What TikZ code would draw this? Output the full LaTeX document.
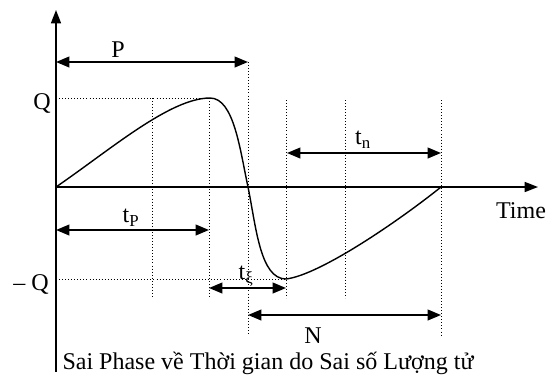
\documentclass[tikz,border=0pt]{standalone}
\usepackage{fontspec}
\setmainfont{Liberation Serif}
\usepackage{tikz}
\usetikzlibrary{arrows.meta, calc}
\tikzset{
  axis/.style={
    -{Triangle[length=4mm,width=3mm]},
    line width=1.3pt
  },
  span/.style={
    {Triangle[length=4mm,width=3.2mm]}-{Triangle[length=4mm,width=3.2mm]},
    line width=1.6pt
  },
  guide/.style={
    dotted,
    line width=0.6pt
  },
  wave/.style={
    line width=1.2pt
  },
  lbl/.style={
    inner sep=0pt,
    font=\fontsize{20.5}{24}\selectfont
  }
}

\begin{document}
\begin{tikzpicture}[x=0.03cm, y=-0.03cm]
          \useasboundingbox (0,0) rectangle (549,378);
          % axes
          \coordinate (O) at (56,187);
          \coordinate (ytop) at (56,10);
          \coordinate (ybot) at (56,372);
          \coordinate (xend) at (538,187);
          \draw[line width=1.3pt] (O) -- (ybot);
          \draw[axis] (O) -- (ytop);
          \draw[axis] (O) -- (xend);

          % dotted grid
          \coordinate (qtop) at (56,98);
          \coordinate (qbot) at (56,279);
          \coordinate (peak) at (210,98);
          \coordinate (dip) at (286,279);
          \draw[guide] (qtop) -- (peak);
          \draw[guide] (qbot) -- (dip);
          \foreach \x/\a/\b in {152/98/298, 209/98/298, 248/62/335, 286/100/298, 345/100/298, 441/100/335}
            \draw[guide] (\x,\a) -- (\x,\b);

          % waveform
          \coordinate (cross) at (248,187);
          \coordinate (zero) at (441,187);
          \draw[wave] (O) .. controls (110,150) and (170,98) .. (peak)
                .. controls (234,98) and (240,150) .. (cross)
                .. controls (256,226) and (260,279) .. (dip)
                .. controls (320,275) and (400,220) .. (zero);

          % spans
          \coordinate (p1) at (56,62);   \coordinate (p2) at (248,62);
          \coordinate (n1) at (287,153); \coordinate (n2) at (441,153);
          \coordinate (tp1) at (56,230); \coordinate (tp2) at (209,230);
          \coordinate (tx1) at (209,288); \coordinate (tx2) at (286,288);
          \coordinate (N1) at (248,315); \coordinate (N2) at (441,315);
          \draw[span] (p1) -- (p2);
          \draw[span] (n1) -- (n2);
          \draw[span] (tp1) -- (tp2);
          \draw[span] (tx1) -- (tx2);
          \draw[span] (N1) -- (N2);

          % labels
          \node[lbl] (P) at (118,50) {P};
          \node[lbl] (Q) at (42,103) {Q};
          \node[lbl] (mQ) at (31,284) {– Q};
          \node[lbl] (time) at (521,211) {Time};
          \node[lbl] (tn) at (363,140) {t\textsubscript{n}};
          \node[lbl] (tP) at (131,218) {t\textsubscript{P}};
          \node[lbl] (tk) at (246,276) {t\textsubscript{ξ}};
          \node[lbl] (N) at (313,336) {N};
          \node[lbl] (cap) at (268,363) {Sai Phase về Thời gian do Sai số Lượng tử};
        \end{tikzpicture}
\end{document}
